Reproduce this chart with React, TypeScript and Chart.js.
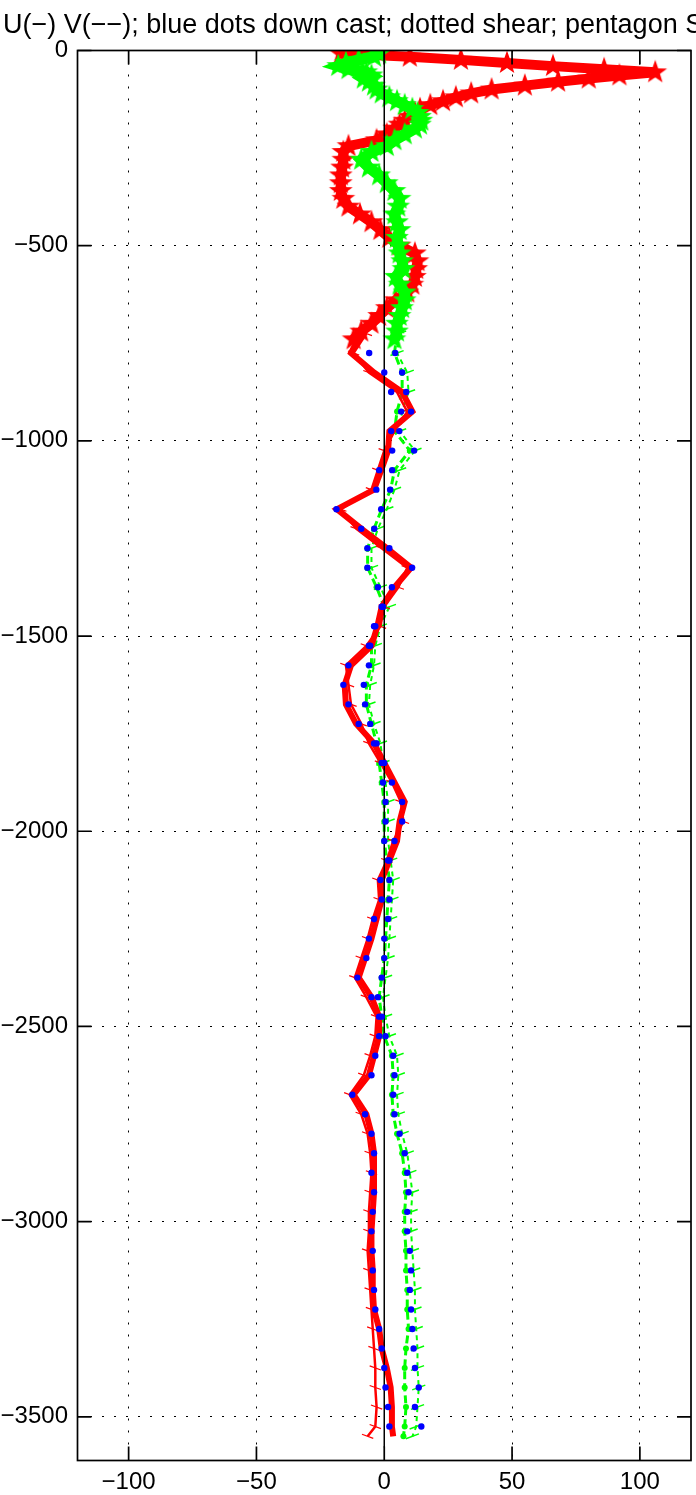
import React, { useEffect, useRef } from 'react';
import { Chart, registerables } from 'chart.js';
Chart.register(...registerables);

const TITLE = 'U(−) V(−−); blue dots down cast; dotted shear; pentagon S';
const xTicks = [-100, -50, 0, 50, 100];
const yTicks = [0, -500, -1000, -1500, -2000, -2500, -3000, -3500];
const X_MIN = -120;
const X_MAX = 120;
const Y_MIN = -3612;
const Y_MAX = 0;

// SADCP (pentagram) profiles
const sadcpDepth = [8, 16, 24, 32, 40, 48, 56, 64, 72, 80,
  90, 100, 110, 120, 130, 140, 150, 160, 170, 180,
  190, 200, 215, 230, 245, 260, 280, 300, 320, 340,
  360, 380, 400, 420, 440, 460, 480, 500, 520, 540,
  560, 580, 600, 620, 640, 660, 680, 700, 720, 740];
const sadcpU = [-17, 10, 30, 48, 66, 86, 106, 92, 80, 68,
  55, 42, 34, 28, 23, 18, 14, 12, 10, 8,
  6, 4, 1, -3, -14, -16, -16, -16.5, -17, -17,
  -17, -16, -14, -9.5, -5, -1.5, 2, 6, 12, 13,
  12.5, 12, 11, 9, 4.5, 1, -2, -5, -9, -12];
const sadcpV = [-2, -4, -10, -15, -18, -14, -7, -5, -8, -6,
  -4, -3, -1, 2, 5, 8, 11, 13, 14, 14.5,
  14, 12, 8, 4, 1, -5, -9, -6, -2, 1,
  4, 6, 5.5, 4, 5, 6, 5, 5.5, 6, 7,
  7.5, 4.5, 6, 8, 8, 7, 6, 5, 5, 4];

// LADCP profiles
const ladcpDepth = [725, 775, 825, 875, 925, 975, 1025, 1075, 1125, 1175,
  1225, 1275, 1325, 1375, 1425, 1475, 1525, 1575, 1625, 1675,
  1725, 1775, 1825, 1875, 1925, 1975, 2025, 2075, 2125, 2175,
  2225, 2275, 2325, 2375, 2425, 2475, 2525, 2575, 2625, 2675,
  2725, 2775, 2825, 2875, 2925, 2975, 3025, 3075, 3125, 3175,
  3225, 3275, 3325, 3375, 3425, 3475, 3525, 3550];
const uLadcp1 = [-9, -13, -4, 7, 11, 2, 1.5, -1.2, -4, -18.5,
  -9, 1, 10.5, 4, -1, -2.7, -5, -13, -15.5, -15,
  -11, -4, 0, 4, 8, 6, 5, 2, -1, -1,
  -3, -5, -7.5, -10, -5, -2, -2, -4, -6, -12,
  -7, -5, -4, -4, -4, -4.5, -5, -5, -4.5, -4.5,
  -4, -2, -1, 1, 2.5, 3, 3, 3.5];
const uLadcp2 = [-7, -12, -6, 5, 9, 4, 0, -2.5, -5, -17,
  -11, -1, 9, 5.5, 0, -1.5, -7, -15, -14, -13,
  -9, -6, -1.5, 3, 6.5, 7.5, 3.5, 1, -2.5, -2,
  -4.5, -6.5, -9, -11.5, -7, -3, -3.5, -5.5, -8, -13.5,
  -9, -6.5, -5.5, -5, -5.5, -6, -6, -6.5, -6, -5.5,
  -5, -4.5, -4, -3.5, -3.5, -3, -3.5, -6.5];
const vLadcp1 = [5, 4, 7, 7, 5, 4, 10, 4, 2.5, -1,
  -4, -6.5, -6.5, -3, 0, -3, -5, -5, -7, -7,
  -5, -3, -2, -1, 0, 0, 0, 1, 2, 1.5,
  1, 0.5, 0, -1, -2, -1, 0, 3, 3.5, 3,
  3.5, 5, 7, 8, 8.5, 8, 8, 8.5, 8.5, 9,
  9, 9.5, 8.5, 8, 8, 8.5, 8, 7.5];
const vLadcp2 = [6, 5, 9, 9.5, 7, 6, 12, 6, 4, 1,
  -2.5, -5, -5, -1.5, 2, -1.5, -3.5, -4, -5.5, -6,
  -4, -1.5, -0.5, 0.5, 1.5, 1.5, 1.5, 2.5, 3.5, 3,
  2.5, 2, 1.5, 0.5, -0.5, 0.5, 2, 5, 5.5, 5,
  5.5, 7, 9, 10, 11, 10.5, 10.5, 11, 11.5, 12,
  12, 12.5, 13, 13, 13.5, 13, 12.5, 11];

// down-cast (blue dots)
const blueDepth = [775, 825, 875, 925, 975, 1025, 1075, 1125, 1175, 1225,
  1275, 1325, 1375, 1425, 1475, 1525, 1575, 1625, 1675, 1725,
  1775, 1825, 1875, 1925, 1975, 2025, 2075, 2125, 2175, 2225,
  2275, 2325, 2375, 2425, 2475, 2525, 2575, 2625, 2675, 2725,
  2775, 2825, 2875, 2925, 2975, 3025, 3075, 3125, 3175, 3225,
  3275, 3325, 3375, 3425, 3475, 3525];
const blueU = [-5.9, 0, 2.7, 10.5, 2.7, 3.1, -2, -3.1, -18.7, -9,
  2, 10.9, 3, -1, -4, -6, -14, -16, -14, -10,
  -4, 0, 3, 7, 7, 4, 2, -1.5, -1, -4,
  -6, -7, -10.5, -5, -2, -2, -3.5, -5, -12.5, -7.5,
  -5, -4, -5, -4, -4.5, -5, -4.5, -4.5, -4, -3.5,
  -2, -1, 0, 0.5, 1.5, 2];
const blueV = [4.3, 7, 8.6, 6.6, 5.9, 11.7, 3.1, 2.3, -1.2, -3.9,
  -6.6, -6.6, -2.5, -0.5, -3.5, -5.5, -6, -8, -7.5, -5.5,
  -3, -1, -0.5, 0.5, 0.5, 0, 1.5, 2, 2, 1.5,
  0, 0, -1, -2.5, -1, 0.5, 3.5, 4, 3.5, 4,
  6, 8, 9, 9.5, 9, 9, 10, 10.5, 10, 10.5,
  11, 11.5, 12, 13.5, 12, 14.5];

const zeroLineX = [0, 0];
const zeroLineDepth = [0, 3578];

const FONT = "'Liberation Sans', Arial, Helvetica, sans-serif";
const RED = '#ff0000';
const GREEN = '#00ff00';
const BLUE = '#0000ff';

const pts = (xs: number[], ds: number[]) => xs.map((x, i) => ({ x, y: -ds[i] }));
const fmt = (v: number) => (v < 0 ? '\u2212' + Math.abs(v) : String(v));

function starCanvas(color: string, size: number) {
  const c = document.createElement('canvas');
  c.width = size;
  c.height = size;
  const ctx = c.getContext('2d') as CanvasRenderingContext2D;
  const R = size / 2 - 0.5;
  const r = R * 0.4;
  ctx.beginPath();
  for (let i = 0; i < 10; i++) {
    const a = -Math.PI / 2 + (i * Math.PI) / 5;
    const rr = i % 2 === 0 ? R : r;
    const px = size / 2 + rr * Math.cos(a);
    const py = size / 2 + rr * Math.sin(a);
    if (i === 0) ctx.moveTo(px, py);
    else ctx.lineTo(px, py);
  }
  ctx.closePath();
  ctx.fillStyle = color;
  ctx.fill();
  return c;
}

const framePlugin = {
  id: 'matlabFrame',
  afterDatasetsDraw(chart: any) {
    const { ctx, chartArea: a, scales } = chart;
    ctx.save();
    ctx.strokeStyle = '#000';
    ctx.lineWidth = 1.7;
    ctx.setLineDash([]);
    ctx.strokeRect(a.left, a.top, a.right - a.left, a.bottom - a.top);
    const L = 14;
    ctx.beginPath();
    xTicks.forEach((v) => {
      const px = scales.x.getPixelForValue(v);
      ctx.moveTo(px, a.bottom);
      ctx.lineTo(px, a.bottom - L);
      ctx.moveTo(px, a.top);
      ctx.lineTo(px, a.top + L);
    });
    yTicks.forEach((v) => {
      const py = scales.y.getPixelForValue(v);
      ctx.moveTo(a.left, py);
      ctx.lineTo(a.left + L, py);
      ctx.moveTo(a.right, py);
      ctx.lineTo(a.right - L, py);
    });
    ctx.stroke();
    ctx.restore();
  },
};

export default function App() {
  const ref = useRef<HTMLCanvasElement | null>(null);

  useEffect(() => {
    if (!ref.current) return;
    const redStar = starCanvas(RED, 26);
    const greenStar = starCanvas(GREEN, 26);

    const chart = new Chart(ref.current, {
      type: 'scatter',
      data: {
        datasets: [
          {
            label: 'U down',
            data: pts(blueU, blueDepth),
            showLine: false,
            pointRadius: 3.2,
            pointBackgroundColor: BLUE,
            pointBorderWidth: 0,
            order: 0,
            clip: 0,
          },
          {
            label: 'V down',
            data: pts(blueV, blueDepth),
            showLine: false,
            pointRadius: 3.2,
            pointBackgroundColor: BLUE,
            pointBorderWidth: 0,
            order: 0,
            clip: 0,
          },
          {
            label: 'zero',
            data: pts(zeroLineX, zeroLineDepth),
            showLine: true,
            borderColor: '#000',
            borderWidth: 1.5,
            pointRadius: 0,
            order: 1,
            clip: 0,
          },
          {
            label: 'U shear',
            data: pts(uLadcp2, ladcpDepth),
            showLine: true,
            borderColor: RED,
            borderWidth: 2.5,
            pointStyle: 'line',
            pointRadius: 6,
            pointRotation: 20,
            pointBorderColor: RED,
            pointBorderWidth: 1.2,
            order: 2,
            clip: 0,
          },
          {
            label: 'U',
            data: pts(uLadcp1, ladcpDepth),
            showLine: true,
            borderColor: RED,
            borderWidth: 6,
            pointRadius: 0,
            order: 3,
            clip: 0,
          },
          {
            label: 'V shear',
            data: pts(vLadcp2, ladcpDepth),
            showLine: true,
            borderColor: GREEN,
            borderWidth: 2,
            borderDash: [5, 4],
            pointStyle: 'line',
            pointRadius: 7,
            pointRotation: -20,
            pointBorderColor: GREEN,
            pointBorderWidth: 1.5,
            order: 4,
            clip: 0,
          },
          {
            label: 'V',
            data: pts(vLadcp1, ladcpDepth),
            showLine: true,
            borderColor: GREEN,
            borderWidth: 3,
            borderDash: [8, 4],
            pointRadius: 3,
            pointBackgroundColor: GREEN,
            pointBorderWidth: 0,
            order: 5,
            clip: 0,
          },
          {
            label: 'V SADCP',
            data: pts(sadcpV, sadcpDepth),
            showLine: true,
            borderColor: GREEN,
            borderWidth: 11,
            pointStyle: greenStar,
            pointRadius: 10,
            order: 6,
            clip: 0,
          },
          {
            label: 'U SADCP',
            data: pts(sadcpU, sadcpDepth),
            showLine: true,
            borderColor: RED,
            borderWidth: 10,
            pointStyle: redStar,
            pointRadius: 10,
            order: 7,
            clip: 0,
          },
        ],
      },
      options: {
        animation: false,
        responsive: false,
        devicePixelRatio: 1,
        layout: { autoPadding: false, padding: { left: 0, right: 5, top: 50.5, bottom: 0 } },
        plugins: {
          legend: { display: false },
          tooltip: { enabled: false },
          title: { display: false },
        },
        scales: {
          x: {
            type: 'linear',
            position: 'bottom',
            min: X_MIN,
            max: X_MAX,
            afterBuildTicks: (s: any) => {
              s.ticks = xTicks.map((v) => ({ value: v }));
            },
            afterFit: (s: any) => {
              s.height = 34.5;
              s.paddingLeft = 0;
              s.paddingRight = 0;
            },
            grid: { color: '#000', lineWidth: 1, drawTicks: false },
            border: { display: false, dash: [2, 10] },
            ticks: {
              color: '#000',
              padding: 7,
              maxRotation: 0,
              font: { family: FONT, size: 24 },
              callback: (v: any) => fmt(Number(v)),
            },
          },
          y: {
            type: 'linear',
            min: Y_MIN,
            max: Y_MAX,
            afterBuildTicks: (s: any) => {
              s.ticks = yTicks.map((v) => ({ value: v }));
            },
            afterFit: (s: any) => {
              s.width = 77.5;
              s.paddingTop = 0;
              s.paddingBottom = 0;
            },
            grid: { color: '#000', lineWidth: 1, drawTicks: false },
            border: { display: false, dash: [2, 10] },
            ticks: {
              color: '#000',
              padding: 9.5,
              font: { family: FONT, size: 24 },
              callback: (v: any) => fmt(Number(v)),
            },
          },
        },
      },
      plugins: [framePlugin],
    } as any);
    return () => chart.destroy();
  }, []);

  return (
    <div style={{ position: 'absolute', left: 0, top: 0, width: 696, height: 1495, overflow: 'hidden', background: '#fff' }}>
      <canvas ref={ref} width={696} height={1495} style={{ display: 'block', width: 696, height: 1495 }} />
      <div
        style={{
          position: 'absolute',
          left: 3,
          top: 11,
          fontFamily: FONT,
          fontSize: 27,
          lineHeight: '27px',
          whiteSpace: 'nowrap',
          color: '#000',
        }}
      >
        {TITLE}
      </div>
    </div>
  );
}
